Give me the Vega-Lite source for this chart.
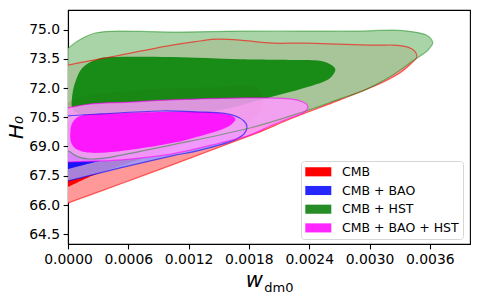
{
"$schema": "https://vega.github.io/schema/vega-lite/v6.json",
"width": 402, "height": 234,
"autosize": {"type": "none"},
"padding": {"left": 68, "top": 10, "right": 10, "bottom": 56},
"config": {
 "font": "DejaVu Sans",
 "view": {"stroke": "black", "strokeWidth": 1.1},
 "axis": {"grid": false, "domainColor": "black", "domainWidth": 1.1, "tickColor": "black", "tickWidth": 1.1, "tickSize": 4.9, "labelColor": "black", "labelFontSize": 13.9, "labelFont": "DejaVu Sans", "labelPadding": 3.5, "titleColor": "black", "titleFont": "DejaVu Sans", "titleFontWeight": "normal"}
},
"datasets": {"pts": [
{"s":"g2","i":1,"x":-0.000096,"y":73.64},{"s":"g2","i":2,"x":0.000003,"y":74.05},{"s":"g2","i":3,"x":0.000112,"y":74.46},{"s":"g2","i":4,"x":0.000271,"y":74.82},{"s":"g2","i":5,"x":0.00051,"y":74.92},{"s":"g2","i":6,"x":0.001036,"y":74.87},{"s":"g2","i":7,"x":0.001712,"y":74.92},{"s":"g2","i":8,"x":0.002308,"y":74.92},{"s":"g2","i":9,"x":0.002904,"y":74.92},{"s":"g2","i":10,"x":0.003232,"y":74.97},{"s":"g2","i":11,"x":0.00345,"y":74.87},{"s":"g2","i":12,"x":0.003569,"y":74.71},{"s":"g2","i":13,"x":0.003629,"y":74.35},{"s":"g2","i":14,"x":0.003599,"y":74.05},{"s":"g2","i":15,"x":0.003549,"y":73.79},{"s":"g2","i":16,"x":0.00343,"y":73.38},{"s":"g2","i":17,"x":0.003232,"y":72.67},{"s":"g2","i":18,"x":0.003073,"y":72.2},{"s":"g2","i":19,"x":0.002904,"y":71.79},{"s":"g2","i":20,"x":0.002705,"y":71.44},{"s":"g2","i":21,"x":0.002337,"y":70.77},{"s":"g2","i":22,"x":0.001811,"y":69.95},{"s":"g2","i":23,"x":0.001036,"y":69.08},{"s":"g2","i":24,"x":0.00044,"y":68.47},{"s":"g2","i":25,"x":0.000222,"y":68.36},{"s":"g2","i":26,"x":0.000102,"y":68.47},{"s":"g2","i":27,"x":0.000023,"y":68.72},{"s":"g2","i":28,"x":-0.000096,"y":69.34},
{"s":"g1","i":1,"x":0.000043,"y":70.98},{"s":"g1","i":2,"x":0.000043,"y":71.64},{"s":"g1","i":3,"x":0.000073,"y":72.31},{"s":"g1","i":4,"x":0.000142,"y":73.02},{"s":"g1","i":5,"x":0.000271,"y":73.43},{"s":"g1","i":6,"x":0.00044,"y":73.59},{"s":"g1","i":7,"x":0.001036,"y":73.59},{"s":"g1","i":8,"x":0.001712,"y":73.48},{"s":"g1","i":9,"x":0.002377,"y":73.43},{"s":"g1","i":10,"x":0.002556,"y":73.33},{"s":"g1","i":11,"x":0.002655,"y":73.02},{"s":"g1","i":12,"x":0.002636,"y":72.67},{"s":"g1","i":13,"x":0.002536,"y":72.31},{"s":"g1","i":14,"x":0.002208,"y":71.79},{"s":"g1","i":15,"x":0.00191,"y":71.39},{"s":"g1","i":16,"x":0.001612,"y":70.98},{"s":"g1","i":17,"x":0.001314,"y":70.72},{"s":"g1","i":18,"x":0.000818,"y":70.57},{"s":"g1","i":19,"x":0.000321,"y":70.57},{"s":"g1","i":20,"x":0.000122,"y":70.67},
{"s":"r2","i":1,"x":-0.000096,"y":72.97},{"s":"r2","i":2,"x":0.000003,"y":73.18},{"s":"r2","i":3,"x":0.00052,"y":73.69},{"s":"r2","i":4,"x":0.001036,"y":74.2},{"s":"r2","i":5,"x":0.001314,"y":74.41},{"s":"r2","i":6,"x":0.001483,"y":74.51},{"s":"r2","i":7,"x":0.001712,"y":74.46},{"s":"r2","i":8,"x":0.00204,"y":74.3},{"s":"r2","i":9,"x":0.002377,"y":74.3},{"s":"r2","i":10,"x":0.003003,"y":74.2},{"s":"r2","i":11,"x":0.003232,"y":74.2},{"s":"r2","i":12,"x":0.003381,"y":74.1},{"s":"r2","i":13,"x":0.00345,"y":73.89},{"s":"r2","i":14,"x":0.00347,"y":73.59},{"s":"r2","i":15,"x":0.00343,"y":73.33},{"s":"r2","i":16,"x":0.003301,"y":72.77},{"s":"r2","i":17,"x":0.003073,"y":72.15},{"s":"r2","i":18,"x":0.002705,"y":71.39},{"s":"r2","i":19,"x":0.002337,"y":70.67},{"s":"r2","i":20,"x":0.002139,"y":70.26},{"s":"r2","i":21,"x":0.00191,"y":69.75},{"s":"r2","i":22,"x":0.001036,"y":68.06},{"s":"r2","i":23,"x":0.00052,"y":67.08},{"s":"r2","i":24,"x":0.000003,"y":66.11},{"s":"r2","i":25,"x":-0.000096,"y":65.91},
{"s":"r1","i":1,"x":-0.000096,"y":71.13},{"s":"r1","i":2,"x":0.000003,"y":71.28},{"s":"r1","i":3,"x":0.000251,"y":71.64},{"s":"r1","i":4,"x":0.000917,"y":71.95},{"s":"r1","i":5,"x":0.001582,"y":72.05},{"s":"r1","i":6,"x":0.001761,"y":72.15},{"s":"r1","i":7,"x":0.001871,"y":72.0},{"s":"r1","i":8,"x":0.00193,"y":71.59},{"s":"r1","i":9,"x":0.00193,"y":71.13},{"s":"r1","i":10,"x":0.001811,"y":70.31},{"s":"r1","i":11,"x":0.001314,"y":69.39},{"s":"r1","i":12,"x":0.000818,"y":68.52},{"s":"r1","i":13,"x":0.000321,"y":67.65},{"s":"r1","i":14,"x":0.000172,"y":67.34},{"s":"r1","i":15,"x":0.000003,"y":66.93},{"s":"r1","i":16,"x":-0.000096,"y":66.78},
{"s":"b2","i":1,"x":-0.000096,"y":70.46},{"s":"b2","i":2,"x":0.000003,"y":70.57},{"s":"b2","i":3,"x":0.000321,"y":70.67},{"s":"b2","i":4,"x":0.000917,"y":70.82},{"s":"b2","i":5,"x":0.001314,"y":70.77},{"s":"b2","i":6,"x":0.001513,"y":70.72},{"s":"b2","i":7,"x":0.001662,"y":70.57},{"s":"b2","i":8,"x":0.001751,"y":70.31},{"s":"b2","i":9,"x":0.001781,"y":70.0},{"s":"b2","i":10,"x":0.001751,"y":69.64},{"s":"b2","i":11,"x":0.001662,"y":69.34},{"s":"b2","i":12,"x":0.001513,"y":69.08},{"s":"b2","i":13,"x":0.001245,"y":68.72},{"s":"b2","i":14,"x":0.001036,"y":68.52},{"s":"b2","i":15,"x":0.00052,"y":67.9},{"s":"b2","i":16,"x":0.000003,"y":67.24},{"s":"b2","i":17,"x":-0.000096,"y":67.14},
{"s":"b1","i":1,"x":-0.000096,"y":70.21},{"s":"b1","i":2,"x":0.000003,"y":70.26},{"s":"b1","i":3,"x":0.00052,"y":70.46},{"s":"b1","i":4,"x":0.001116,"y":70.57},{"s":"b1","i":5,"x":0.001463,"y":70.46},{"s":"b1","i":6,"x":0.001592,"y":70.16},{"s":"b1","i":7,"x":0.001533,"y":69.8},{"s":"b1","i":8,"x":0.001314,"y":69.44},{"s":"b1","i":9,"x":0.000917,"y":68.98},{"s":"b1","i":10,"x":0.000569,"y":68.57},{"s":"b1","i":11,"x":0.000311,"y":68.26},{"s":"b1","i":12,"x":0.000003,"y":67.85},{"s":"b1","i":13,"x":-0.000096,"y":67.75},
{"s":"m2","i":1,"x":-0.000096,"y":70.92},{"s":"m2","i":2,"x":0.000003,"y":70.98},{"s":"m2","i":3,"x":0.000222,"y":71.18},{"s":"m2","i":4,"x":0.000619,"y":71.28},{"s":"m2","i":5,"x":0.001036,"y":71.39},{"s":"m2","i":6,"x":0.001811,"y":71.49},{"s":"m2","i":7,"x":0.002208,"y":71.44},{"s":"m2","i":8,"x":0.002337,"y":71.28},{"s":"m2","i":9,"x":0.002387,"y":71.03},{"s":"m2","i":10,"x":0.002337,"y":70.72},{"s":"m2","i":11,"x":0.002208,"y":70.46},{"s":"m2","i":12,"x":0.00201,"y":70.05},{"s":"m2","i":13,"x":0.001811,"y":69.59},{"s":"m2","i":14,"x":0.001513,"y":69.18},{"s":"m2","i":15,"x":0.001036,"y":68.62},{"s":"m2","i":16,"x":0.00052,"y":68.31},{"s":"m2","i":17,"x":0.000311,"y":68.26},{"s":"m2","i":18,"x":0.000003,"y":68.21},{"s":"m2","i":19,"x":-0.000096,"y":68.21},
{"s":"m1","i":1,"x":0.000023,"y":69.7},{"s":"m1","i":2,"x":0.000043,"y":70.21},{"s":"m1","i":3,"x":0.000122,"y":70.57},{"s":"m1","i":4,"x":0.000321,"y":70.67},{"s":"m1","i":5,"x":0.000917,"y":70.77},{"s":"m1","i":6,"x":0.001314,"y":70.77},{"s":"m1","i":7,"x":0.001563,"y":70.67},{"s":"m1","i":8,"x":0.001662,"y":70.46},{"s":"m1","i":9,"x":0.001632,"y":70.16},{"s":"m1","i":10,"x":0.001513,"y":69.85},{"s":"m1","i":11,"x":0.001245,"y":69.44},{"s":"m1","i":12,"x":0.001036,"y":69.18},{"s":"m1","i":13,"x":0.000609,"y":68.82},{"s":"m1","i":14,"x":0.000271,"y":68.67},{"s":"m1","i":15,"x":0.000102,"y":68.82},{"s":"m1","i":16,"x":0.000033,"y":69.18}
]},
"encoding": {
 "x": {"field": "x", "type": "quantitative", "scale": {"domain": [0, 0.004], "nice": false, "zero": false}, "axis": null},
 "y": {"field": "y", "type": "quantitative", "scale": {"domain": [64, 76], "nice": false, "zero": false}, "axis": null},
 "order": {"field": "i", "type": "quantitative"}
},
"layer": [
 {"data": {"name": "pts"}, "transform": [{"filter": "datum.s==='r2'"}],
  "mark": {"type": "line", "interpolate": "cardinal-closed", "fill": "#ff9999", "fillOpacity": 1, "strokeWidth": 0, "clip": true},
  "encoding": {
   "x": {"field": "x", "type": "quantitative", "scale": {"domain": [0, 0.004], "nice": false, "zero": false},
    "axis": {"orient": "bottom", "values": [0, 0.0006, 0.0012, 0.0018, 0.0024, 0.003, 0.0036], "format": ".4f", "labelFlush": false, "labelOverlap": false, "title": "w", "titleFontSize": 21, "titleFontStyle": "italic", "titleX": 177.3, "titleY": 42.4, "titleAlign": "left", "titleBaseline": "alphabetic"}},
   "y": {"field": "y", "type": "quantitative", "scale": {"domain": [64, 76], "nice": false, "zero": false},
    "axis": {"values": [64.5, 66, 67.5, 69, 70.5, 72, 73.5, 75], "format": ".1f", "labelFlush": false, "labelOverlap": false, "title": "H₀", "titleFontSize": 20, "titleFontStyle": "italic", "titleX": -46, "titleY": 117, "titleAngle": -90, "titleAlign": "center", "titleBaseline": "alphabetic"}}
  }},
 {"data": {"name": "pts"}, "transform": [{"filter": "datum.s==='r1'"}],
  "mark": {"type": "line", "interpolate": "cardinal-closed", "fill": "#ff0000", "fillOpacity": 1, "strokeWidth": 0, "clip": true}},
 {"data": {"name": "pts"}, "transform": [{"filter": "datum.s==='b2'"}],
  "mark": {"type": "line", "interpolate": "cardinal-closed", "fill": "#9999ff", "fillOpacity": 0.85, "strokeWidth": 0, "clip": true}},
 {"data": {"name": "pts"}, "transform": [{"filter": "datum.s==='b1'"}],
  "mark": {"type": "line", "interpolate": "cardinal-closed", "fill": "#0000ff", "fillOpacity": 0.85, "strokeWidth": 0, "clip": true}},
 {"data": {"name": "pts"}, "transform": [{"filter": "datum.s==='g2'"}],
  "mark": {"type": "line", "interpolate": "cardinal-closed", "fill": "#99cc99", "fillOpacity": 0.85, "strokeWidth": 0, "clip": true}},
 {"data": {"name": "pts"}, "transform": [{"filter": "datum.s==='g1'"}],
  "mark": {"type": "line", "interpolate": "cardinal-closed", "fill": "#008000", "fillOpacity": 0.85, "strokeWidth": 0, "clip": true}},
 {"data": {"name": "pts"}, "transform": [{"filter": "datum.s==='m2'"}],
  "mark": {"type": "line", "interpolate": "cardinal-closed", "fill": "#ff99ff", "fillOpacity": 0.85, "strokeWidth": 0, "clip": true}},
 {"data": {"name": "pts"}, "transform": [{"filter": "datum.s==='m1'"}],
  "mark": {"type": "line", "interpolate": "cardinal-closed", "fill": "#ff00ff", "fillOpacity": 0.85, "strokeWidth": 0, "clip": true}},
 {"data": {"name": "pts"}, "transform": [{"filter": "datum.s==='r2'"}],
  "mark": {"type": "line", "interpolate": "cardinal-closed", "stroke": "#ff0000", "strokeWidth": 1.2, "strokeOpacity": 0.6, "clip": true}},
 {"data": {"name": "pts"}, "transform": [{"filter": "datum.s==='b2'"}],
  "mark": {"type": "line", "interpolate": "cardinal-closed", "stroke": "#0000ff", "strokeWidth": 1.2, "strokeOpacity": 0.6, "clip": true}},
 {"data": {"name": "pts"}, "transform": [{"filter": "datum.s==='g2'"}],
  "mark": {"type": "line", "interpolate": "cardinal-closed", "stroke": "#008000", "strokeWidth": 1.2, "strokeOpacity": 0.45, "clip": true}},
 {"data": {"name": "pts"}, "transform": [{"filter": "datum.s==='m2'"}],
  "mark": {"type": "line", "interpolate": "cardinal-closed", "stroke": "#ff00ff", "strokeWidth": 1.2, "strokeOpacity": 0.6, "clip": true}},
 {"data": {"name": "pts"}, "transform": [{"filter": "datum.s==='none'"}],
  "mark": {"type": "square", "filled": true, "opacity": 1},
  "encoding": {
   "x": {"field": "x", "type": "quantitative", "scale": {"domain": [0, 0.004], "nice": false, "zero": false},
    "axis": {"orient": "top", "labels": false, "ticks": false, "domain": false, "title": "dm0", "titleFontSize": 13, "titleFontStyle": "normal", "titleX": 195.8, "titleY": 281, "titleAlign": "left", "titleBaseline": "alphabetic"}},
   "fill": {"field": "s", "type": "nominal",
    "scale": {"domain": ["CMB", "CMB + BAO", "CMB + HST", "CMB + BAO + HST"], "range": ["#ff0000", "#2626ff", "#268c26", "#ff26ff"]},
    "legend": {"orient": "none", "legendX": 233, "legendY": 151, "title": null, "symbolType": "M-1,-0.7H3V0.7H-1Z", "symbolSize": 169, "symbolStrokeWidth": 0, "symbolOpacity": 1, "labelFontSize": 12.5, "labelFont": "DejaVu Sans", "labelColor": "black", "labelOffset": 23.7, "rowPadding": 5.7, "padding": 4.3, "fillColor": "rgba(255,255,255,0.8)", "strokeColor": "#d6d6d6", "cornerRadius": 3}}
  }}
],
"resolve": {"axis": {"x": "independent", "y": "independent"}}
}
